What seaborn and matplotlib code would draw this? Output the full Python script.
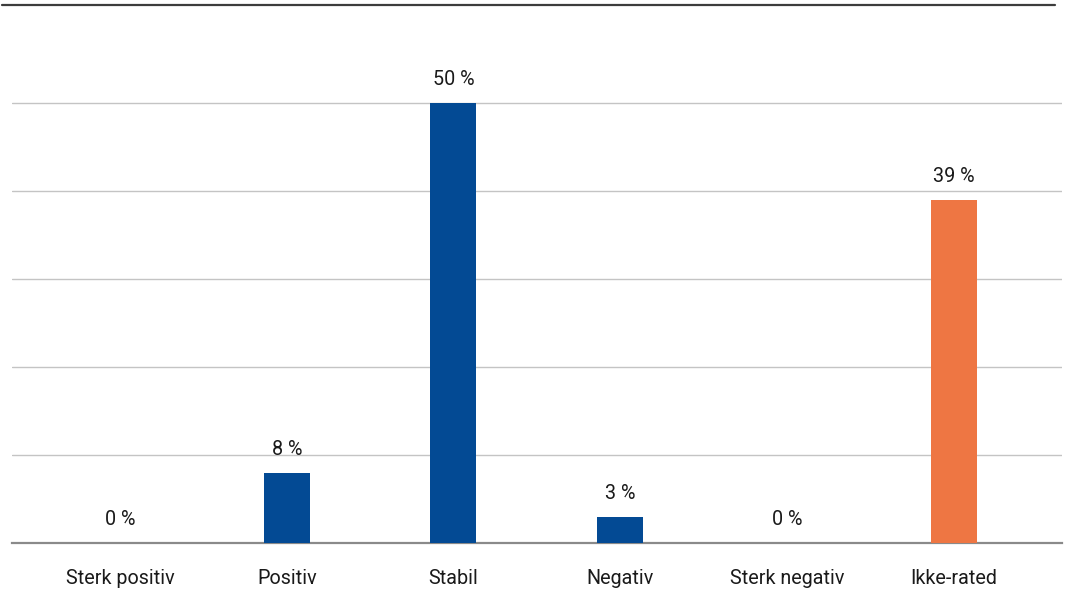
import matplotlib
matplotlib.use("Agg")
import matplotlib.pyplot as plt
import seaborn as sns
import pandas as pd
from matplotlib.lines import Line2D

categories = ["Sterk positiv", "Positiv", "Stabil", "Negativ", "Sterk negativ", "Ikke-rated"]
shares = [0, 8, 50, 3, 0, 39]
groups = ["rated", "rated", "rated", "rated", "rated", "unrated"]

palette = {"rated": "#034a94", "unrated": "#ee7643"}

sns.set_theme(style="white")
plt.rcParams["font.family"] = ["Roboto", "DejaVu Sans"]

df = pd.DataFrame({"category": categories, "share": shares, "group": groups})

W, H = 1069, 596
fig = plt.figure(figsize=(W / 100, H / 100), dpi=100)
ax = fig.add_axes([12 / W, (H - 543) / H, 1050 / W, 538 / H])

sns.barplot(data=df, x="category", y="share", hue="group", palette=palette,
            dodge=False, width=0.276, legend=False, saturation=1,
            linewidth=0, ax=ax, zorder=3)

ax.set_xlim(-0.648, 5.65)
ax.set_ylim(0, 61.14)
ax.set_yticks([0, 10, 20, 30, 40, 50])
ax.yaxis.grid(True, color="#c4c4c4", linewidth=1.0, zorder=0)
ax.set_axisbelow(True)
ax.set_yticklabels([])
ax.tick_params(axis="y", length=0)
ax.tick_params(axis="x", length=0, pad=19, labelsize=14.2, labelcolor="#1a1a1a")
ax.set_xlabel("")
ax.set_ylabel("")
for side in ["top", "right", "left"]:
    ax.spines[side].set_visible(False)
ax.spines["bottom"].set_color("#8a8a8a")
ax.spines["bottom"].set_linewidth(1.6)

for i, v in enumerate(shares):
    ax.annotate(f"{v} %", xy=(i, v), xytext=(0, 10), textcoords="offset points",
                ha="center", va="bottom", fontsize=14.2, color="#1a1a1a")

fig.add_artist(Line2D([2 / W, 1055 / W], [(H - 5) / H, (H - 5) / H],
                      transform=fig.transFigure, color="#3c3c3c", linewidth=1.6))

fig.savefig("out.png", dpi=100, facecolor="white")
